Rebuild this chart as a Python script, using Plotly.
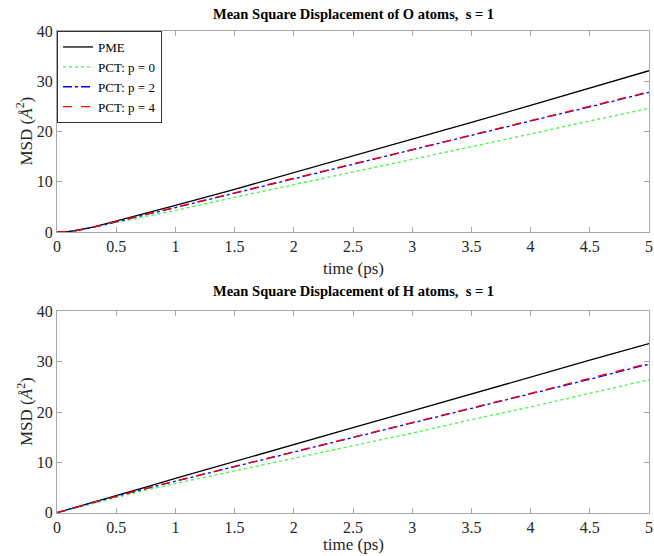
import plotly.graph_objects as go

# time samples (ps)
t = [0, 0.05, 0.1, 0.15, 0.2, 0.3, 0.4, 0.5, 0.75, 1, 1.5, 2, 2.5, 3, 3.5, 4, 4.5, 5]

# O atoms MSD (Å^2)
o_pme = [0, 0.03, 0.1, 0.25, 0.45, 0.95, 1.55, 2.2, 3.75, 5.3, 8.5, 11.8, 15.1, 18.5, 21.8, 25.2, 28.6, 32.1]
o_p0  = [0, 0.03, 0.1, 0.23, 0.4, 0.85, 1.35, 1.9, 3.1, 4.3, 6.9, 9.4, 11.9, 14.5, 17.0, 19.5, 22.1, 24.6]
o_p2  = [0, 0.03, 0.1, 0.24, 0.43, 0.9, 1.45, 2.05, 3.45, 4.85, 7.75, 10.6, 13.4, 16.3, 19.2, 22.1, 24.9, 27.8]
o_p4  = [0, 0.03, 0.1, 0.24, 0.43, 0.9, 1.45, 2.1, 3.5, 4.9, 7.8, 10.7, 13.5, 16.4, 19.3, 22.2, 25.0, 27.9]

# H atoms MSD (Å^2)
h_pme = [0, 0.3, 0.65, 1.0, 1.35, 2.05, 2.75, 3.4, 5.1, 6.8, 10.2, 13.5, 16.9, 20.2, 23.6, 26.9, 30.3, 33.6]
h_p0  = [0, 0.3, 0.63, 0.95, 1.28, 1.9, 2.5, 3.1, 4.5, 5.8, 8.3, 10.9, 13.4, 15.8, 18.5, 21.0, 23.7, 26.4]
h_p2  = [0, 0.3, 0.64, 0.98, 1.32, 2.0, 2.65, 3.3, 4.8, 6.25, 9.15, 11.95, 14.8, 17.8, 20.7, 23.6, 26.5, 29.5]
h_p4  = [0, 0.3, 0.64, 0.98, 1.32, 2.0, 2.65, 3.3, 4.8, 6.3, 9.2, 12.0, 14.9, 17.9, 20.8, 23.7, 26.7, 29.7]

names = ["PME", "PCT: p = 0", "PCT: p = 2", "PCT: p = 4"]
colors = ["#000000", "#33ff33", "#0000ff", "#ff0000"]
dashes = ["solid", "dot", "dashdot", "dash"]

xticks = [0, 0.5, 1, 1.5, 2, 2.5, 3, 3.5, 4, 4.5, 5]
xticklabels = ["0", "0.5", "1", "1.5", "2", "2.5", "3", "3.5", "4", "4.5", "5"]
yticks = [0, 10, 20, 30, 40]

W, H = 654, 556
FONT = "Liberation Serif"
AX = "#a8a8a8"
TXT = "#262626"

fig = go.Figure()
for i, ys in enumerate([o_pme, o_p0, o_p2, o_p4]):
    fig.add_trace(go.Scatter(x=t, y=ys, mode="lines", name=names[i],
                             line=dict(color=colors[i], dash=dashes[i], width=1.3),
                             xaxis="x", yaxis="y", showlegend=True))
for i, ys in enumerate([h_pme, h_p0, h_p2, h_p4]):
    fig.add_trace(go.Scatter(x=t, y=ys, mode="lines", name=names[i],
                             line=dict(color=colors[i], dash=dashes[i], width=1.3),
                             xaxis="x2", yaxis="y2", showlegend=False))

x0, x1 = 57 / W, 649 / W
top_dom = [1 - 232 / H, 1 - 31 / H]
bot_dom = [1 - 512.7 / H, 1 - 311.3 / H]

axcommon = dict(showline=True, linecolor=AX, linewidth=1, mirror="allticks",
                ticks="inside", ticklen=5, tickcolor=AX, showgrid=False, zeroline=False,
                automargin=False,
                tickfont=dict(family=FONT, size=16, color=TXT))

fig.update_layout(
    width=W, height=H, margin=dict(l=0, r=0, t=0, b=0, autoexpand=False),
    paper_bgcolor="white", plot_bgcolor="white",
    xaxis=dict(domain=[x0, x1], range=[0, 5], tickvals=xticks, ticktext=xticklabels,
               anchor="y", **axcommon),
    yaxis=dict(domain=top_dom, range=[0, 40], tickvals=yticks, anchor="x", **axcommon),
    xaxis2=dict(domain=[x0, x1], range=[0, 5], tickvals=xticks, ticktext=xticklabels,
                anchor="y2", **axcommon),
    yaxis2=dict(domain=bot_dom, range=[0, 40], tickvals=yticks, anchor="x2", **axcommon),
    legend=dict(x=x0, y=top_dom[1], xanchor="left", yanchor="top",
                bgcolor="white", bordercolor="#333333", borderwidth=1,
                font=dict(family=FONT, size=13, color="#000000"),
                itemwidth=30, tracegroupgap=0),
    showlegend=True,
)

cx = (57 + 649) / 2 / W
ann = []
ann.append(dict(text="<b>Mean Square Displacement of O atoms,\u00a0 s = 1</b>", x=cx, y=1 - 14 / H,
                xref="paper", yref="paper", showarrow=False, xanchor="center", yanchor="middle",
                font=dict(family=FONT, size=14.5, color="#000000")))
ann.append(dict(text="<b>Mean Square Displacement of H atoms,\u00a0 s = 1</b>", x=cx, y=1 - 291 / H,
                xref="paper", yref="paper", showarrow=False, xanchor="center", yanchor="middle",
                font=dict(family=FONT, size=14.5, color="#000000")))
for yc in [268, 544]:
    ann.append(dict(text="time (ps)", x=cx, y=1 - yc / H, xref="paper", yref="paper",
                    showarrow=False, xanchor="center", yanchor="middle",
                    font=dict(family=FONT, size=17, color=TXT)))
for yc in [(31 + 232) / 2, (311.3 + 512.7) / 2]:
    ann.append(dict(text="MSD (<i>Å</i><sup>2</sup>)", x=25 / W, y=1 - yc / H, xref="paper", yref="paper",
                    showarrow=False, xanchor="center", yanchor="middle", textangle=-90,
                    font=dict(family=FONT, size=17, color=TXT)))
fig.update_layout(annotations=ann)

fig.write_html("out.html",
               post_script="document.body.style.margin='0';document.body.style.overflow='hidden';")
